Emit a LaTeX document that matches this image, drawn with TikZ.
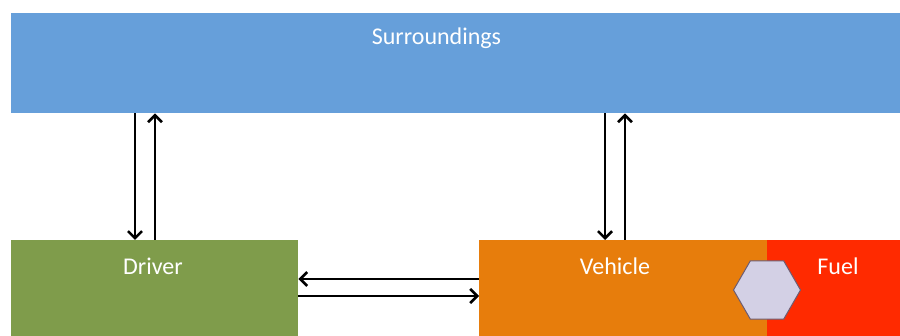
\documentclass[tikz,border=0pt]{standalone}
\usepackage{fontspec}
\setmainfont{Carlito}
\usetikzlibrary{arrows.meta,shapes.geometric}
\definecolor{surrblue}{HTML}{669FDA}
\definecolor{drivergreen}{HTML}{7F9C4B}
\definecolor{vehorange}{HTML}{E77D0C}
\definecolor{fuelred}{HTML}{FF2A00}
\definecolor{hexfill}{HTML}{D3D0E5}
\definecolor{hexline}{HTML}{6E5C70}
\tikzset{
  block/.style={draw=none, inner sep=0pt, anchor=north west},
  caption/.style={text=white, font=\fontsize{24}{28}\selectfont, inner sep=0pt},
  flow/.style={line width=2.8pt, -{Straight Barb[length=7pt,width=14pt,line width=2.6pt]}},
}
\begin{document}
\begin{tikzpicture}[x=1pt,y=-1pt]
\useasboundingbox (0,0) rectangle (900,336);
% blocks
\node[block, fill=surrblue, minimum width=889pt, minimum height=100pt] (surr) at (11,13) {};
\node[block, fill=drivergreen, minimum width=287pt, minimum height=96pt] (driver) at (11,240) {};
\node[block, fill=vehorange, minimum width=288pt, minimum height=96pt] (vehicle) at (479,240) {};
\node[block, fill=fuelred, minimum width=133pt, minimum height=96pt] (fuel) at (767,240) {};
% captions
\node[caption] (surrtxt) at (436.5,38) {Surroundings};
\node[caption] (drivertxt) at (153,266) {Driver};
\node[caption] (vehtxt) at (615,266) {Vehicle};
\node[caption] (fueltxt) at (838,266) {Fuel};
% hexagon on the vehicle/fuel boundary
\node[regular polygon, regular polygon sides=6, minimum size=67pt, inner sep=0pt,
      fill=hexfill, draw=hexline, line width=1pt] (hex) at (767,290) {};
% driver <-> surroundings
\draw[flow] (surr.south -| 135,0) -- (driver.north -| 135,0);
\draw[flow] (driver.north -| 155,0) -- (surr.south -| 155,0);
% vehicle <-> surroundings
\draw[flow] (surr.south -| 605,0) -- (vehicle.north -| 605,0);
\draw[flow] (vehicle.north -| 625,0) -- (surr.south -| 625,0);
% driver <-> vehicle
\draw[flow] (vehicle.west |- 0,279) -- (driver.east |- 0,279);
\draw[flow] (driver.east |- 0,296) -- (vehicle.west |- 0,296);
\end{tikzpicture}
\end{document}
